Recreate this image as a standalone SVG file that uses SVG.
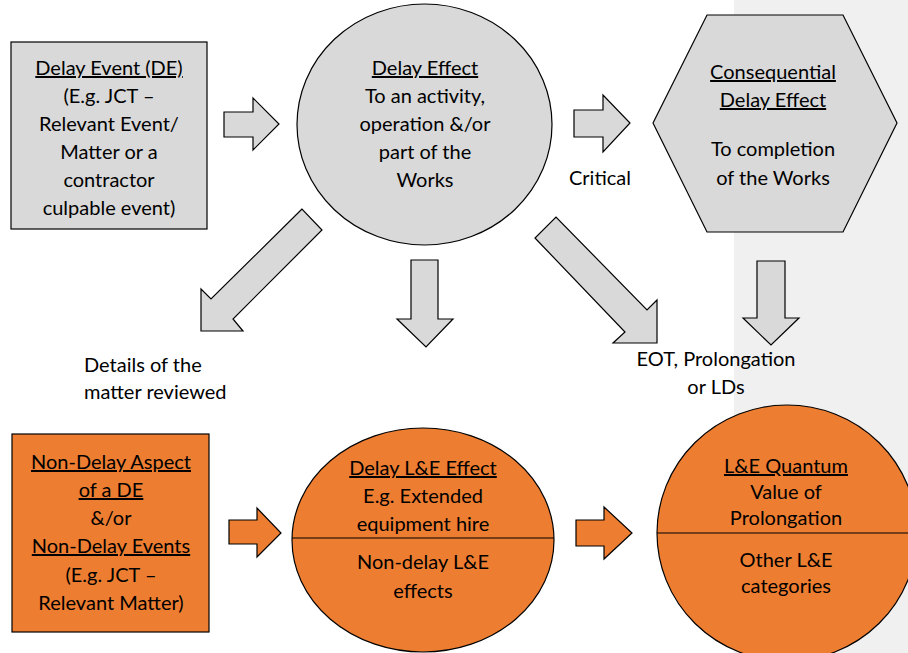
<svg xmlns="http://www.w3.org/2000/svg" width="908" height="653" viewBox="0 0 908 653">
<style>
.g{fill:#d9d9d9;stroke:#000;stroke-width:1.2}
.o{fill:#ed7d31;stroke:#000;stroke-width:1.2}
text{font-family:Lato,"Liberation Sans",sans-serif;font-size:20px;fill:#000}
.c{text-anchor:middle}
.u{text-decoration:underline;text-decoration-skip-ink:none}
</style>
<rect x="734" y="0" width="174" height="653" fill="#f0f0f0"/>
<g id="delay-event">
<rect class="g" x="11" y="42" width="196" height="187"/>
<text class="c u" x="109" y="75">Delay Event (DE)</text>
<text class="c" x="109" y="103">(E.g. JCT –</text>
<text class="c" x="109" y="131">Relevant Event/</text>
<text class="c" x="109" y="159">Matter or a</text>
<text class="c" x="109" y="187">contractor</text>
<text class="c" x="109" y="215">culpable event)</text>
</g>
<g id="delay-effect">
<ellipse class="g" cx="424.5" cy="124.5" rx="127.5" ry="120.5"/>
<text class="c u" x="425" y="75">Delay Effect</text>
<text class="c" x="425" y="103">To an activity,</text>
<text class="c" x="425" y="131">operation &amp;/or</text>
<text class="c" x="425" y="159">part of the</text>
<text class="c" x="425" y="187">Works</text>
</g>
<g id="consequential">
<polygon class="g" points="653,123 707,15 843,15 897,123 843,232 707,232"/>
<text class="c u" x="773" y="79">Consequential</text>
<text class="c u" x="773" y="107">Delay Effect</text>
<text class="c" x="773" y="156">To completion</text>
<text class="c" x="773" y="185">of the Works</text>
</g>
<g id="non-delay">
<rect class="o" x="12" y="434" width="197" height="198"/>
<text class="c u" x="111" y="469">Non-Delay Aspect</text>
<text class="c u" x="111" y="497">of a DE</text>
<text class="c" x="111" y="525">&amp;/or</text>
<text class="c u" x="111" y="553">Non-Delay Events</text>
<text class="c" x="111" y="582">(E.g. JCT –</text>
<text class="c" x="111" y="610">Relevant Matter)</text>
</g>
<g id="delay-le">
<ellipse class="o" cx="423" cy="540" rx="131" ry="112"/>
<line x1="292" y1="538" x2="554" y2="538" stroke="#000" stroke-width="1.2"/>
<text class="c u" x="423" y="475">Delay L&amp;E Effect</text>
<text class="c" x="423" y="503">E.g. Extended</text>
<text class="c" x="423" y="531">equipment hire</text>
<text class="c" x="423" y="569">Non-delay L&amp;E</text>
<text class="c" x="423" y="598">effects</text>
</g>
<g id="le-quantum">
<ellipse class="o" cx="787" cy="533" rx="130" ry="128"/>
<line x1="657" y1="533" x2="917" y2="533" stroke="#000" stroke-width="1.2"/>
<text class="c u" x="786" y="473">L&amp;E Quantum</text>
<text class="c" x="786" y="499">Value of</text>
<text class="c" x="786" y="525">Prolongation</text>
<text class="c" x="786" y="567">Other L&amp;E</text>
<text class="c" x="786" y="593">categories</text>
</g>
<g id="connectors">
<polygon class="g" points="224,112 253,112 253,98 279,124 253,150 253,137 224,137"/>
<polygon class="g" points="574,110 603,110 603,95 630,123 603,152 603,137 574,137"/>
<polygon class="g" points="302,209 211,299 201,289 201,331 243,331 233,319 322,230"/>
<polygon class="g" points="411,260 438,260 438,319 453,319 426,347 397,319 411,319"/>
<polygon class="g" points="535,238 625,332 613,343 657,343 657,300 647,310 556,217"/>
<polygon class="g" points="757,261 785,261 785,318 799,318 771,345 743,318 757,318"/>
<polygon class="o" points="229,520 257,520 257,508 281,533 257,557 257,544 229,544"/>
<polygon class="o" points="576,520 604,520 604,507 632,533 604,559 604,546 576,546"/>
<text class="c" x="600" y="185">Critical</text>
<text x="84" y="372">Details of the</text>
<text x="84" y="399">matter reviewed</text>
<text class="c" x="716" y="366">EOT, Prolongation</text>
<text class="c" x="716" y="394">or LDs</text>
</g>
</svg>
